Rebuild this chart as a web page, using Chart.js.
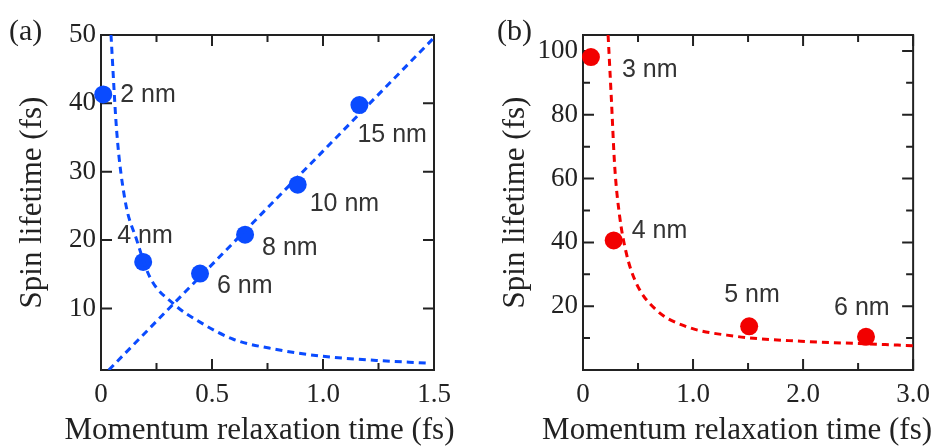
<!DOCTYPE html>
<html><head><meta charset="utf-8">
<script src="https://cdn.jsdelivr.net/npm/chart.js@4/dist/chart.umd.min.js"></script>
<style>
body{margin:0;background:#fff;width:939px;height:446px;position:relative;overflow:hidden}
canvas{position:absolute;top:0}
#ca{left:0}
#cb{left:470px}
</style></head><body>
<canvas id="ca" width="470" height="446"></canvas>
<canvas id="cb" width="469" height="446"></canvas>
<script>
// ---------- Panel (a) data ----------
const aTau = [0.01, 0.19, 0.446, 0.649, 0.886, 1.164];
const aSpin = [41.3, 16.8, 15.1, 20.8, 28.1, 39.75];
const aNames = ['2 nm', '4 nm', '6 nm', '8 nm', '10 nm', '15 nm'];
const aLinTau = [0.035, 1.5];
const aLinSpin = [1.0, 49.6];
const aHypTau = [0.045, 0.071, 0.108, 0.161, 0.22, 0.326, 0.446, 0.596, 0.791, 1.0, 1.24, 1.474];
const aHypSpin = [50, 35.8, 25.9, 20.0, 14.6, 10.7, 8.0, 5.5, 4.0, 3.0, 2.4, 2.0];
const aXTicks = [0, 0.5, 1.0, 1.5];
const aXTickLabels = ['0', '0.5', '1.0', '1.5'];
const aXMinor = [0.25, 0.75, 1.25];
const aYTicks = [10, 20, 30, 40, 50];
const aYTickLabels = ['10', '20', '30', '40', '50'];
const aYMinor = [];

// ---------- Panel (b) data ----------
const bTau = [0.072, 0.279, 1.51, 2.572];
const bSpin = [98.1, 40.6, 13.7, 10.4];
const bNames = ['3 nm', '4 nm', '5 nm', '6 nm'];
const bHypTau = [0.228, 0.258, 0.288, 0.333, 0.393, 0.483, 0.663, 0.932, 1.38, 1.98, 2.58, 3.0];
const bHypSpin = [105, 84.8, 63.9, 48.2, 36.7, 27.3, 18.9, 13.7, 10.6, 9.0, 8.2, 7.6];
const bXTicks = [0, 1.0, 2.0, 3.0];
const bXTickLabels = ['0', '1.0', '2.0', '3.0'];
const bXMinor = [0.5, 1.5, 2.5];
const bYTicks = [20, 40, 60, 80, 100];
const bYTickLabels = ['20', '40', '60', '80', '100'];
const bYMinor = [10, 30, 50, 70, 90];

const xTitle = 'Momentum relaxation time (fs)';
const yTitle = 'Spin lifetime (fs)';

const SERIF = '"Liberation Serif", "DejaVu Serif", serif';
const SANS = '"Liberation Sans", Arial, sans-serif';
const INK = '#222';

function pts(xs, ys) { return xs.map((v, i) => ({x: v, y: ys[i]})); }

function makePlugin(p) {
  return {
    id: 'frame_' + p.tag,
    beforeDatasetsDraw(chart) {
      const ctx = chart.ctx;
      const {left, right, top, bottom} = chart.chartArea;
      const xs = chart.scales.x, ys = chart.scales.y;
      ctx.save();
      ctx.strokeStyle = INK;
      ctx.lineWidth = 2;
      ctx.strokeRect(left, top, right - left, bottom - top);
      const MAJ = 11, MIN = 7;
      ctx.beginPath();
      const vx = (list, len) => list.forEach(v => {
        const px = xs.getPixelForValue(v);
        ctx.moveTo(px, bottom); ctx.lineTo(px, bottom - len);
        ctx.moveTo(px, top); ctx.lineTo(px, top + len);
      });
      const hy = (list, len) => list.forEach(v => {
        const py = ys.getPixelForValue(v);
        ctx.moveTo(left, py); ctx.lineTo(left + len, py);
        ctx.moveTo(right, py); ctx.lineTo(right - len, py);
      });
      vx(p.xTicks, MAJ); vx(p.xMinor, MIN);
      hy(p.yTicks, MAJ); hy(p.yMinor, MIN);
      ctx.stroke();
      // panel letter
      ctx.fillStyle = INK;
      ctx.font = '30px ' + SERIF;
      ctx.textBaseline = 'middle';
      ctx.textAlign = 'left';
      ctx.fillText(p.letter, p.letterX, 32);
      // x-axis title (drawn unsqueezed)
      ctx.font = '31px ' + SERIF;
      ctx.textAlign = 'center';
      ctx.textBaseline = 'alphabetic';
      ctx.fillText(xTitle, (left + right) / 2 + p.xTitleShift, 439);
      ctx.restore();
    },
    afterDatasetsDraw(chart) {
      const ctx = chart.ctx;
      const xs = chart.scales.x, ys = chart.scales.y;
      ctx.save();
      ctx.fillStyle = '#333';
      ctx.font = '25px ' + SANS;
      ctx.textBaseline = 'middle';
      ctx.textAlign = 'left';
      p.names.forEach((n, i) => {
        const px = xs.getPixelForValue(p.tau[i]) + p.offsets[i][0];
        const py = ys.getPixelForValue(p.spin[i]) + p.offsets[i][1];
        ctx.fillText(n, px, py);
      });
      ctx.restore();
    }
  };
}

function makeChart(id, p) {
  return new Chart(document.getElementById(id), {
    type: 'scatter',
    data: {
      datasets: p.datasets
    },
    options: {
      responsive: false,
      animation: false,
      devicePixelRatio: 1,
      layout: {padding: {left: 0, top: 35, right: p.padRight, bottom: 0}},
      plugins: {legend: {display: false}, tooltip: {enabled: false}},
      scales: {
        x: {
          type: 'linear', min: p.xMin, max: p.xMax,
          grid: {display: false, drawTicks: false},
          border: {display: false},
          afterBuildTicks: s => { s.ticks = p.xTicks.map(v => ({value: v})); },
          afterFit: s => { s.height = 76; },
          ticks: {
            color: INK, font: {family: SERIF, size: 27}, padding: 9, maxRotation: 0, autoSkip: false,
            callback: (v) => { const i = p.xTicks.indexOf(v); return i >= 0 ? p.xTickLabels[i] : ''; }
          },
          title: {display: false}
        },
        y: {
          type: 'linear', min: p.yMin, max: p.yMax,
          grid: {display: false, drawTicks: false},
          border: {display: false},
          afterBuildTicks: s => { s.ticks = p.yTicks.map(v => ({value: v})); },
          afterFit: s => { s.width = p.yWidth; },
          ticks: {
            color: INK, font: {family: SERIF, size: 27}, padding: 5, autoSkip: false,
            callback: (v) => { const i = p.yTicks.indexOf(v); return i >= 0 ? p.yTickLabels[i] : ''; }
          },
          title: {display: true, text: yTitle, color: INK,
                  font: {family: SERIF, size: 31, lineHeight: 1.0}, padding: {top: p.yTitlePad, bottom: 0}}
        }
      }
    },
    plugins: [makePlugin(p)]
  });
}

const BLUE = '#0a4bff';
const RED = '#f20000';

makeChart('ca', {
  tag: 'a', letter: '(a)', letterX: 9, xTitleShift: -8,
  padRight: 36, yWidth: 101, yTitlePad: 17,
  xMin: 0, xMax: 1.5, yMin: 1, yMax: 50,
  xTicks: aXTicks, xTickLabels: aXTickLabels, xMinor: aXMinor,
  yTicks: aYTicks, yTickLabels: aYTickLabels, yMinor: aYMinor,
  tau: aTau, spin: aSpin, names: aNames,
  offsets: [[17, 1], [-26, -26], [17, 13], [17, 13], [12, 19], [-2, 30]],
  datasets: [
    {data: pts(aLinTau, aLinSpin), showLine: true, borderColor: BLUE, borderWidth: 3,
     borderDash: [7, 5], pointRadius: 0, fill: false},
    {data: pts(aHypTau, aHypSpin), showLine: true, borderColor: BLUE, borderWidth: 3,
     borderDash: [7, 5], pointRadius: 0, cubicInterpolationMode: 'monotone', fill: false},
    {data: pts(aTau, aSpin), showLine: false, pointRadius: 9, pointBackgroundColor: BLUE,
     pointBorderWidth: 0, borderColor: BLUE, clip: false}
  ]
});

makeChart('cb', {
  tag: 'b', letter: '(b)', letterX: 27, xTitleShift: -11,
  padRight: 22, yWidth: 113, yTitlePad: 30,
  xMin: 0, xMax: 3, yMin: 0, yMax: 105,
  xTicks: bXTicks, xTickLabels: bXTickLabels, xMinor: bXMinor,
  yTicks: bYTicks, yTickLabels: bYTickLabels, yMinor: bYMinor,
  tau: bTau, spin: bSpin, names: bNames,
  offsets: [[31, 13], [18, -9], [-25, -31], [-32, -29]],
  datasets: [
    {data: pts(bHypTau, bHypSpin), showLine: true, borderColor: RED, borderWidth: 3,
     borderDash: [7, 5], pointRadius: 0, cubicInterpolationMode: 'monotone', fill: false},
    {data: pts(bTau, bSpin), showLine: false, pointRadius: 9, pointBackgroundColor: RED,
     pointBorderWidth: 0, borderColor: RED, clip: false}
  ]
});
</script>
</body></html>
